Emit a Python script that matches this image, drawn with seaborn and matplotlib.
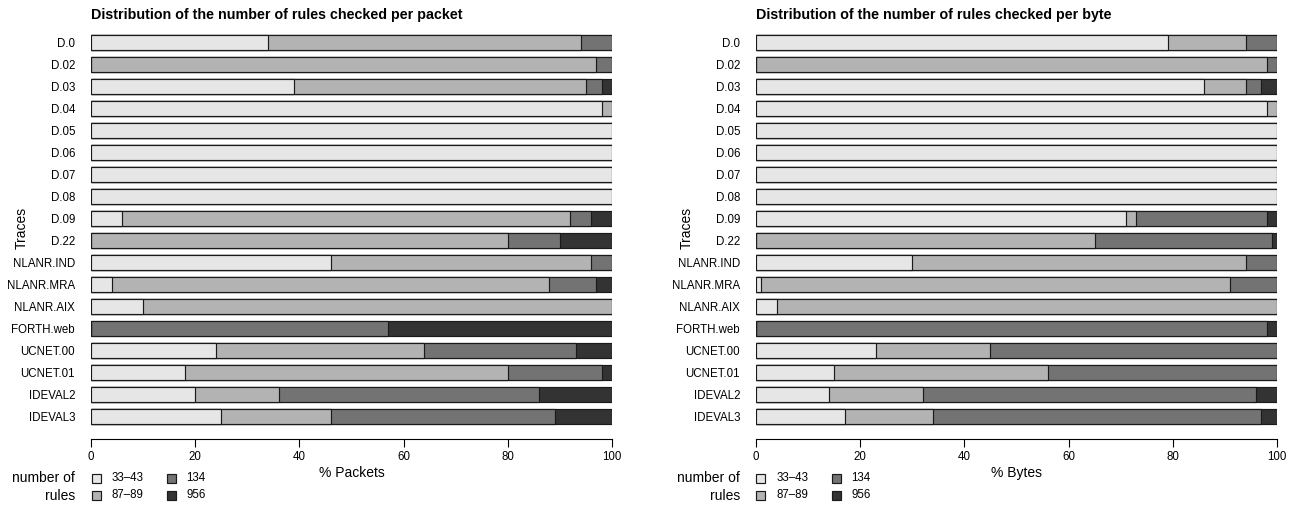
import matplotlib
matplotlib.use("Agg")
import matplotlib.pyplot as plt
from matplotlib.patches import Rectangle
import seaborn as sns
import pandas as pd
import numpy as np

# ---------------- data ----------------
traces = ["D.0", "D.02", "D.03", "D.04", "D.05", "D.06", "D.07", "D.08", "D.09",
          "D.22", "NLANR.IND", "NLANR.MRA", "NLANR.AIX", "FORTH.web",
          "UCNET.00", "UCNET.01", "IDEVAL2", "IDEVAL3"]

rule_groups = ["33\u201343", "87\u201389", "134", "956"]
group_colors = ["#e6e6e6", "#b3b3b3", "#737373", "#333333"]

pkt_33_43 = [34, 0, 39, 98, 100, 100, 100, 100, 6, 0, 46, 4, 10, 0, 24, 18, 20, 25]
pkt_87_89 = [60, 97, 56, 2, 0, 0, 0, 0, 86, 80, 50, 84, 90, 0, 40, 62, 16, 21]
pkt_134 = [6, 3, 3, 0, 0, 0, 0, 0, 4, 10, 4, 9, 0, 57, 29, 18, 50, 43]
pkt_956 = [0, 0, 2, 0, 0, 0, 0, 0, 4, 10, 0, 3, 0, 43, 7, 2, 14, 11]

byte_33_43 = [79, 0, 86, 98, 100, 100, 100, 100, 71, 0, 30, 1, 4, 0, 23, 15, 14, 17]
byte_87_89 = [15, 98, 8, 2, 0, 0, 0, 0, 2, 65, 64, 90, 96, 0, 22, 41, 18, 17]
byte_134 = [6, 2, 3, 0, 0, 0, 0, 0, 25, 34, 6, 9, 0, 98, 55, 44, 64, 63]
byte_956 = [0, 0, 3, 0, 0, 0, 0, 0, 2, 1, 0, 0, 0, 2, 0, 0, 4, 3]

x_ticks = [0, 20, 40, 60, 80, 100]

titles = ["Distribution of the number of rules checked per packet",
          "Distribution of the number of rules checked per byte"]
xlabels = ["% Packets", "% Bytes"]

# ---------------- style ----------------
sns.set_theme(style="white")
plt.rcParams["font.family"] = ["Liberation Sans", "DejaVu Sans"]

W, H = 1294, 508
fig = plt.figure(figsize=(W / 100, H / 100), dpi=100)

ax_left_px = [91, 756]
ax_w_px = 521
ax_top_px, ax_bot_px = 31.5, 427.5


def fx(px):
    return px / W


def fy(py):
    return 1 - py / H


panels = [
    [pkt_33_43, pkt_87_89, pkt_134, pkt_956],
    [byte_33_43, byte_87_89, byte_134, byte_956],
]

for k, (series, title, xlabel) in enumerate(zip(panels, titles, xlabels)):
    L = ax_left_px[k]
    ax = fig.add_axes([fx(L), fy(ax_bot_px), fx(ax_w_px), (ax_bot_px - ax_top_px) / H])
    cum = np.cumsum(np.array(series, dtype=float), axis=0)
    # draw cumulative layers from the outermost to innermost
    for j in range(len(series) - 1, -1, -1):
        df = pd.DataFrame({"trace": traces, "value": cum[j]})
        sns.barplot(data=df, x="value", y="trace", order=traces, orient="h",
                    color=group_colors[j], saturation=1, width=0.68,
                    edgecolor="#1a1a1a", linewidth=0.85, errorbar=None, ax=ax)
    ax.set_xlim(0, 100)
    ax.set_ylim(len(traces) - 0.5, -0.5)
    ax.set_xlabel("")
    ax.set_ylabel("")
    for s in ["top", "right", "left"]:
        ax.spines[s].set_visible(False)
    ax.spines["bottom"].set_position(("outward", 8.3))
    ax.spines["bottom"].set_bounds(0, 100)
    ax.spines["bottom"].set_color("black")
    ax.spines["bottom"].set_linewidth(0.8)
    ax.set_xticks(x_ticks)
    ax.set_xticklabels([str(t) for t in x_ticks])
    ax.tick_params(axis="x", bottom=True, direction="out", length=5.5, width=0.8,
                   color="black", pad=3, labelsize=8.3, labelcolor="black")
    ax.tick_params(axis="y", left=False, length=0, pad=11.5, labelsize=8.3,
                   labelcolor="black")
    ax.grid(False)

    # title
    fig.text(fx(L), fy(15), title, ha="left", va="center",
             fontsize=10.3, fontweight="bold", color="black")
    # x label
    fig.text(fx(L + ax_w_px / 2), fy(473), xlabel, ha="center", va="center",
             fontsize=10, color="black")
    # y label
    fig.text(fx(L - 69), fy(228), "Traces", ha="center", va="center",
             rotation=90, fontsize=10, color="black")

    # legend
    fig.text(fx(L - 16), fy(478), "number of", ha="right", va="center",
             fontsize=10, color="black")
    fig.text(fx(L - 16), fy(495.5), "rules", ha="right", va="center",
             fontsize=10, color="black")
    sq = 9
    col_x = [L + 0.5, L + 75.5]
    row_y = [478, 495.5]
    for g, (lab, col) in enumerate(zip(rule_groups, group_colors)):
        cx = col_x[g // 2]
        cy = row_y[g % 2]
        fig.patches.append(Rectangle((fx(cx), fy(cy + sq / 2)), fx(sq), sq / H,
                                     transform=fig.transFigure, facecolor=col,
                                     edgecolor="#1a1a1a", linewidth=0.85))
        fig.text(fx(cx + sq + 11), fy(cy), lab, ha="left", va="center",
                 fontsize=8.3, color="black")

fig.savefig("out.png", dpi=100, facecolor="white")
